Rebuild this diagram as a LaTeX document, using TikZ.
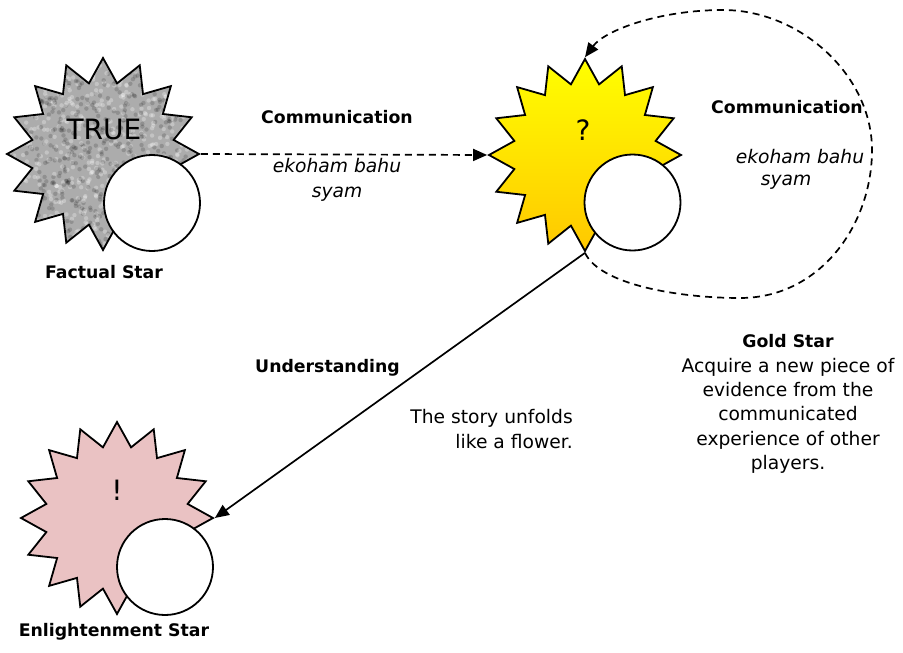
\documentclass[tikz,border=0pt]{standalone}
\usepackage{fontspec}
\setmainfont{DejaVu Sans}
\usetikzlibrary{shapes.geometric,arrows.meta}
\definecolor{factgray}{RGB}{172,172,172}
\definecolor{pinkstar}{RGB}{234,194,195}
\definecolor{goldtop}{RGB}{255,255,0}
\definecolor{goldbot}{RGB}{255,200,0}
\tikzset{
  starbox/.style={star, star points=16, star point ratio=1.333, minimum size=192pt, inner sep=0pt, draw=black, line width=1.8pt},
  hole/.style={circle, minimum size=96pt, inner sep=0pt, draw=black, fill=white, line width=1.8pt},
  conn/.style={line width=1.7pt, -{Triangle[length=14pt,width=12pt]}},
  dashconn/.style={conn, dash pattern=on 7pt off 5pt},
  lbl/.style={inner sep=0pt, font=\fontsize{17.3}{22}\selectfont\bfseries},
  txt/.style={inner sep=0pt, font=\fontsize{18.7}{24.4}\selectfont},
  itx/.style={inner sep=0pt, font=\fontsize{18.7}{24.4}\selectfont\itshape},
  big/.style={inner sep=0pt, font=\fontsize{28}{30}\selectfont},
}
\begin{document}
\begin{tikzpicture}[x=1pt,y=-1pt]
\useasboundingbox (0,0) rectangle (903,653);
% stars
\node[starbox, fill=factgray, path picture={
  \pgfmathsetseed{11}
  \foreach \i in {1,...,1400}{
    \pgfmathsetmacro\rx{rand*100}
    \pgfmathsetmacro\ry{rand*100}
    \pgfmathsetmacro\rg{int(rnd*100)}
    \ifnum\rg<50
      \fill[black, opacity=0.16] ([shift={(\rx,\ry)}]path picture bounding box.center) circle (2.2pt);
    \else
      \fill[white, opacity=0.28] ([shift={(\rx,\ry)}]path picture bounding box.center) circle (2.2pt);
    \fi
  }}] (fs) at (103,154) {};
\node[starbox, top color=goldtop, bottom color=goldbot] (gs) at (585,155) {};
\node[starbox, fill=pinkstar] (es) at (117,518) {};
% holes
\node[hole] (fh) at (152,203) {};
\node[hole] (gh) at (632.5,202.5) {};
\node[hole] (eh) at (165,567) {};
% star texts
\node[big] (ft) at (104,129) {TRUE};
\node[big] (gt) at (583,130) {?};
\node[big] (et) at (117,490) {!};
\node[lbl] (fl) at (104,272) {Factual Star};
\node[lbl] (el) at (114,632) {Enlightenment Star};
% connectors
\draw[dashconn] (fs.east) -- (gs.west);
\draw[dashconn] (gs.south) .. controls (600,285) and (680,298) .. (740,298)
  .. controls (820,298) and (872,225) .. (872,150)
  .. controls (872,75) and (800,10) .. (723,10)
  .. controls (660,10) and (605,30) .. (gs.north);
\draw[conn] (gs.south) -- (es.east);
% labels
\node[lbl] (c1) at (337,117) {Communication};
\node[itx, align=center] (k1) at (337,180) {ekoham bahu\\syam};
\node[lbl] (c2) at (787,107) {Communication};
\node[itx] (k2a) at (800,157) {ekoham bahu};
\node[itx] (k2b) at (786,182) {syam};
\node[lbl] (u) at (327.5,368) {Understanding};
\node[txt, align=right, anchor=east] (st) at (573,429) {The story unfolds\\like a flower.};
\node[txt, align=center] (gd) at (788,404) {{\fontsize{17.3}{24.4}\selectfont\bfseries Gold Star}\\Acquire a new piece of\\evidence from the\\communicated\\experience of other\\players.};
\end{tikzpicture}
\end{document}
